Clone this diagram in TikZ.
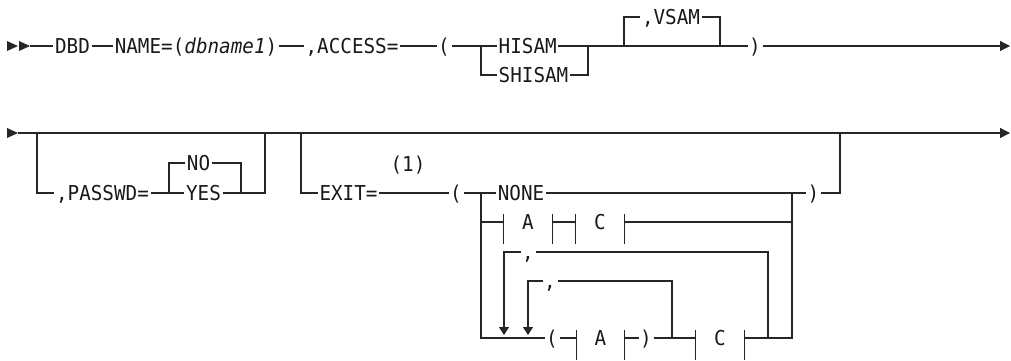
\documentclass[tikz,border=0pt]{standalone}
\usepackage{fontspec}
\newfontfamily\rrmono[FakeStretch=0.94]{DejaVu Sans Mono}
\usetikzlibrary{arrows.meta}
\begin{document}
\begin{tikzpicture}[x=1pt,y=-1pt,
  rail/.style={line width=1.2pt, draw=black!85},
  tok/.style={font=\rrmono\fontsize{20.5}{24}\selectfont, inner xsep=1.5pt, inner ysep=0pt, text height=14.5pt, text depth=0pt, text=black!90},
  frag/.style={tok, minimum width=48pt, inner xsep=0pt},
  endarrow/.style={-{Triangle[length=10pt,width=10pt]}},
  downarrow/.style={-{Triangle[length=8pt,width=10pt]}},
  bar/.style={rail}]
\useasboundingbox (0,0) rectangle (1011,360);

% ---------------- Row 1 ----------------
\coordinate (start1) at (30,46);
\fill[black!85] (7,41) -- (18,46) -- (7,51) -- cycle;
\fill[black!85] (19,41) -- (30,46) -- (19,51) -- cycle;
\node[tok] (dbd) at (72.5,46) {DBD};
\node[tok] (name) at (196,46) {NAME=(\textit{dbname1})};
\node[tok] (access) at (352,46) {,ACCESS=};
\node[tok] (lp1) at (444,46) {(};
\coordinate (j1) at (481,46);
\node[tok,anchor=west] (hisam) at (497,46) {HISAM};
\node[tok,anchor=west] (shisam) at (497,75) {SHISAM};
\coordinate (j2) at (588,46);
\coordinate (j3) at (624,46);
\node[tok] (vsam) at (671,17) {,VSAM};
\coordinate (j4) at (720,46);
\node[tok] (rp1) at (755,46) {)};
\coordinate (end1) at (1010,46);

\draw[rail] (start1) -- (dbd);
\draw[rail] (dbd) -- (name);
\draw[rail] (name) -- (access);
\draw[rail] (access) -- (lp1);
\draw[rail] (lp1) -- (hisam);
\draw[rail] (j1) |- (shisam.west);
\draw[rail] (shisam.east) -| (j2);
\draw[rail] (hisam) -- (rp1);
\draw[rail] (j3) |- (vsam.west);
\draw[rail] (vsam.east) -| (j4);
\draw[rail,endarrow] (rp1) -- (end1);

% ---------------- Row 2 ----------------
\coordinate (start2) at (18,133);
\coordinate (end2) at (1010,133);
\fill[black!85] (7,128) -- (18,133) -- (7,138) -- cycle;
\draw[rail,endarrow] (start2) -- (end2);

\coordinate (k1) at (37,133);
\node[tok] (passwd) at (102.5,193) {,PASSWD=};
\coordinate (k2) at (169,193);
\node[tok] (no) at (198.5,163) {NO};
\node[tok] (yes) at (203.5,193) {YES};
\coordinate (k3) at (241,193);
\coordinate (k4) at (265,133);
\draw[rail] (k1) |- (passwd.west);
\draw[rail] (passwd) -- (yes);
\draw[rail] (k2) |- (no.west);
\draw[rail] (no.east) -| (k3);
\draw[rail] (yes.east) -| (k4);

\coordinate (k5) at (301,133);
\node[tok] (exit) at (348.5,193) {EXIT=};
\node[tok] (note) at (408,164) {(1)};
\node[tok] (lp2) at (456,193) {(};
\coordinate (m1) at (481,193);
\node[tok] (none) at (521,193) {NONE};
\coordinate (m2) at (792,193);
\node[tok] (rp2) at (813.5,193) {)};
\coordinate (m3) at (840,133);
\draw[rail] (k5) |- (exit.west);
\draw[rail] (exit) -- (lp2);
\draw[rail] (lp2) -- (none);
\draw[rail] (none) -- (rp2);
\draw[rail] (rp2.east) -| (m3);

% fragment row A C
\node[frag] (fa1) at (528,222) {A};
\node[frag] (fc1) at (600,222) {C};
\draw[rail] (fa1.west -| m1) -- (fa1.west);
\draw[rail] (fa1.east) -- (fc1.west);
\draw[rail] (fc1.east) -- (fc1.east -| m2);

% repeat loops
\node[tok] (cm1) at (528,252) {,};
\node[tok] (cm2) at (550,281) {,};
\coordinate (n1) at (768,338);
\coordinate (n2) at (672,338);
\coordinate (a1) at (504,335);
\coordinate (a2) at (528,335);
\draw[rail] (n1) |- (cm1.east);
\draw[rail,downarrow] (cm1.west) -| (a1);
\draw[rail] (n2) |- (cm2.east);
\draw[rail,downarrow] (cm2.west) -| (a2);

% bottom row
\coordinate (m1b) at (481,338);
\coordinate (m2b) at (792,338);
\node[tok] (lp3) at (552,338) {(};
\node[frag] (fa2) at (600.5,338) {A};
\node[tok] (rp3) at (646,338) {)};
\node[frag] (fc2) at (720,338) {C};
\draw[rail] (m1) -- (m1b) -- (lp3.west);
\draw[rail] (lp3) -- (fa2);
\draw[rail] (fa2) -- (rp3);
\draw[rail] (rp3) -- (fc2);
\draw[rail] (fc2.east) -- (m2b) -- (m2);

% fragment bars
\foreach \f in {fa1,fc1,fa2,fc2}{
  \draw[bar] ([yshift=8pt]\f.west) -- ([yshift=-22pt]\f.west);
  \draw[bar] ([yshift=8pt]\f.east) -- ([yshift=-22pt]\f.east);
}
\end{tikzpicture}
\end{document}
